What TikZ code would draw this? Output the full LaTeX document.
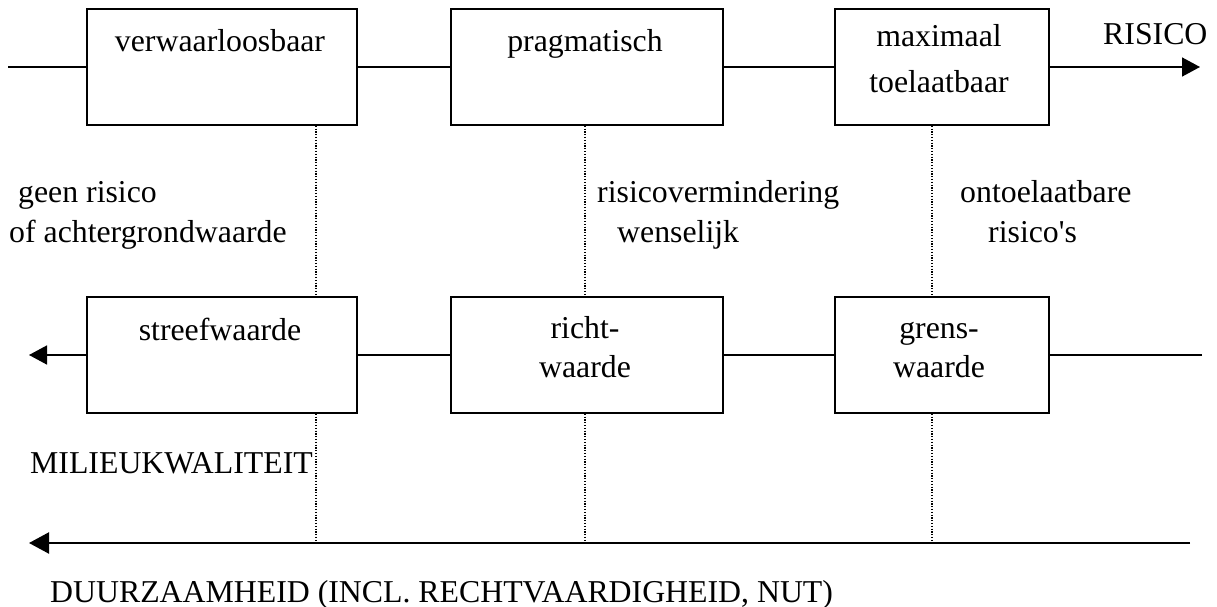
\documentclass[tikz,border=0pt]{standalone}
\usepackage{fontspec}
\setmainfont{Liberation Serif}
\usetikzlibrary{arrows.meta}
\begin{document}
\begin{tikzpicture}[x=1pt,y=-1pt,
  box/.style={draw,line width=1.5pt,minimum height=116pt,inner sep=0pt,fill=none},
  conn/.style={line width=1.5pt},
  dots/.style={line width=1.3pt,dash pattern=on 1.2pt off 1.6pt},
  txt/.style={inner sep=0pt,font=\fontsize{31.8}{38}\selectfont},
  tipA/.style={-{Triangle[length=18pt,width=19pt]}},
  tipB/.style={-{Triangle[length=20pt,width=21pt]}}]
\useasboundingbox (0,0) rectangle (1217,607);
% top row boxes
\node[box,minimum width=270pt] (b1) at (222,67) {};
\node[box,minimum width=272pt] (b2) at (587,67) {};
\node[box,minimum width=214pt] (b3) at (942,67) {};
% bottom row boxes
\node[box,minimum width=270pt] (c1) at (222,355) {};
\node[box,minimum width=272pt] (c2) at (587,355) {};
\node[box,minimum width=214pt] (c3) at (942,355) {};
% coordinates
\coordinate (tl) at (8,67);
\coordinate (tr) at (1200,67);
\coordinate (br) at (1202,355);
\coordinate (bl) at (29,355);
\coordinate (ar) at (1190,543);
\coordinate (al) at (29,543);
\coordinate (d1) at (316,543);
\coordinate (d2) at (585,543);
\coordinate (d3) at (932,543);
% top row connectors
\draw[conn] (tl) -- (b1.west);
\draw[conn] (b1.east) -- (b2.west);
\draw[conn] (b2.east) -- (b3.west);
\draw[conn,tipA] (b3.east) -- (tr);
% bottom row connectors
\draw[conn] (br) -- (c3.east);
\draw[conn] (c3.west) -- (c2.east);
\draw[conn] (c2.west) -- (c1.east);
\draw[conn,tipA] (c1.west) -- (bl);
% long arrow
\draw[line width=2.2pt,tipB] (ar) -- (al);
% dotted lines
\draw[dots] (b1.south -| d1) -- (c1.north -| d1);
\draw[dots] (c1.south -| d1) -- (d1);
\draw[dots] (b2.south -| d2) -- (c2.north -| d2);
\draw[dots] (c2.south -| d2) -- (d2);
\draw[dots] (b3.south -| d3) -- (c3.north -| d3);
\draw[dots] (c3.south -| d3) -- (d3);
% box texts
\node[txt,anchor=base] (t1) at (220,52) {verwaarloosbaar};
\node[txt,anchor=base] (t2) at (585,52) {pragmatisch};
\node[txt,anchor=base] (t3a) at (939,47) {maximaal};
\node[txt,anchor=base] (t3b) at (939,93) {toelaatbaar};
\node[txt,anchor=base] (s1) at (220,340) {streefwaarde};
\node[txt,anchor=base] (s2a) at (585,338) {richt-};
\node[txt,anchor=base] (s2b) at (585,377) {waarde};
\node[txt,anchor=base] (s3a) at (939,338) {grens-};
\node[txt,anchor=base] (s3b) at (939,377) {waarde};
% free labels
\node[txt,anchor=base west] (risico) at (1103,45) {RISICO};
\node[txt,anchor=base west] (m1a) at (18,202) {geen risico};
\node[txt,anchor=base west] (m1b) at (9,242) {of achtergrondwaarde};
\node[txt,anchor=base west] (m2a) at (597,202) {risicovermindering};
\node[txt,anchor=base west] (m2b) at (617,242) {wenselijk};
\node[txt,anchor=base west] (m3a) at (960,202) {ontoelaatbare};
\node[txt,anchor=base west] (m3b) at (988,242) {risico\textquotesingle s};
\node[txt,anchor=base west] (milieu) at (30,473) {MILIEUKWALITEIT};
\node[txt,anchor=base west] (duur) at (50,602) {DUURZAAMHEID (INCL. RECHTVAARDIGHEID, NUT)};
\end{tikzpicture}
\end{document}
